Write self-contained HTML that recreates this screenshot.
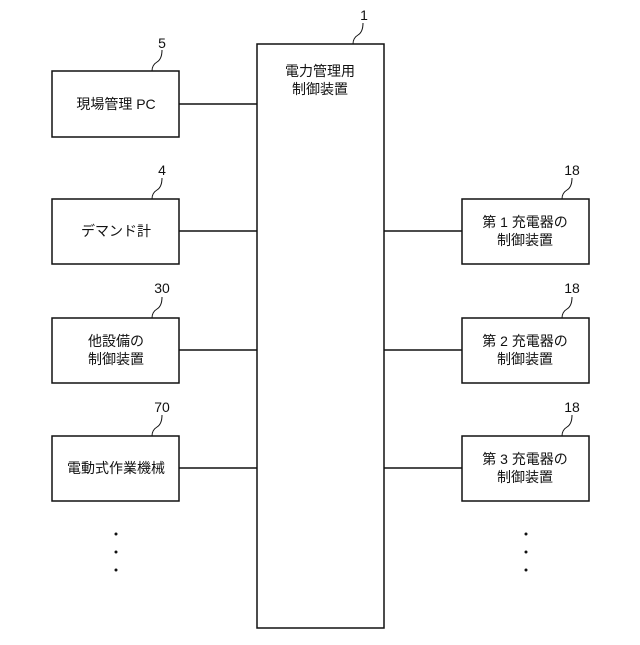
<!DOCTYPE html>
<html><head><meta charset="utf-8"><style>
html,body{margin:0;padding:0;background:#fff;}
svg text{font-family:"Liberation Sans","Noto Sans CJK JP",sans-serif;font-size:14px;fill:#111;}
</style></head><body>
<svg width="640" height="640" viewBox="0 0 640 640" xmlns="http://www.w3.org/2000/svg">
<g fill="none" stroke="#111" stroke-width="1.5">
<rect x="257" y="44" width="127" height="584"/>
<rect x="52" y="71" width="127" height="66"/>
<rect x="52" y="199" width="127" height="65"/>
<rect x="52" y="318" width="127" height="65"/>
<rect x="52" y="436" width="127" height="65"/>
<rect x="462" y="199" width="127" height="65"/>
<rect x="462" y="318" width="127" height="65"/>
<rect x="462" y="436" width="127" height="65"/>
<line x1="179" y1="104" x2="257" y2="104"/>
<line x1="179" y1="231" x2="257" y2="231"/>
<line x1="179" y1="350" x2="257" y2="350"/>
<line x1="179" y1="468" x2="257" y2="468"/>
<line x1="384" y1="231" x2="462" y2="231"/>
<line x1="384" y1="350" x2="462" y2="350"/>
<line x1="384" y1="468" x2="462" y2="468"/>
<g stroke-width="1">
<path d="M353 44 q0-6 5-9 q5-3 5-12"/>
<path d="M152 71 q0-6 5-9 q5-3 5-12"/>
<path d="M152 199 q0-6 5-9 q5-3 5-12"/>
<path d="M152 318 q0-6 5-9 q5-3 5-12"/>
<path d="M152 436 q0-6 5-9 q5-3 5-12"/>
<path d="M562 199 q0-6 5-9 q5-3 5-12"/>
<path d="M562 318 q0-6 5-9 q5-3 5-12"/>
<path d="M562 436 q0-6 5-9 q5-3 5-12"/>
</g>
</g>
<text x="364" y="20" text-anchor="middle">1</text>
<text x="162" y="48" text-anchor="middle">5</text>
<text x="162" y="175" text-anchor="middle">4</text>
<text x="162" y="293" text-anchor="middle">30</text>
<text x="162" y="412" text-anchor="middle">70</text>
<text x="572" y="175" text-anchor="middle">18</text>
<text x="572" y="293" text-anchor="middle">18</text>
<text x="572" y="412" text-anchor="middle">18</text>
<text x="320" y="76" text-anchor="middle">電力管理用</text>
<text x="320" y="94" text-anchor="middle">制御装置</text>
<text x="116" y="109" text-anchor="middle">現場管理 PC</text>
<text x="116" y="236" text-anchor="middle">デマンド計</text>
<text x="116" y="346" text-anchor="middle">他設備の</text>
<text x="116" y="364" text-anchor="middle">制御装置</text>
<text x="116" y="473" text-anchor="middle">電動式作業機械</text>
<text x="525" y="227" text-anchor="middle">第 1 充電器の</text>
<text x="525" y="245" text-anchor="middle">制御装置</text>
<text x="525" y="346" text-anchor="middle">第 2 充電器の</text>
<text x="525" y="364" text-anchor="middle">制御装置</text>
<text x="525" y="464" text-anchor="middle">第 3 充電器の</text>
<text x="525" y="482" text-anchor="middle">制御装置</text>
<g fill="#111">
<circle cx="116" cy="534" r="1.5"/><circle cx="116" cy="552" r="1.5"/><circle cx="116" cy="570" r="1.5"/>
<circle cx="526" cy="534" r="1.5"/><circle cx="526" cy="552" r="1.5"/><circle cx="526" cy="570" r="1.5"/>
</g>
</svg>
</body></html>
